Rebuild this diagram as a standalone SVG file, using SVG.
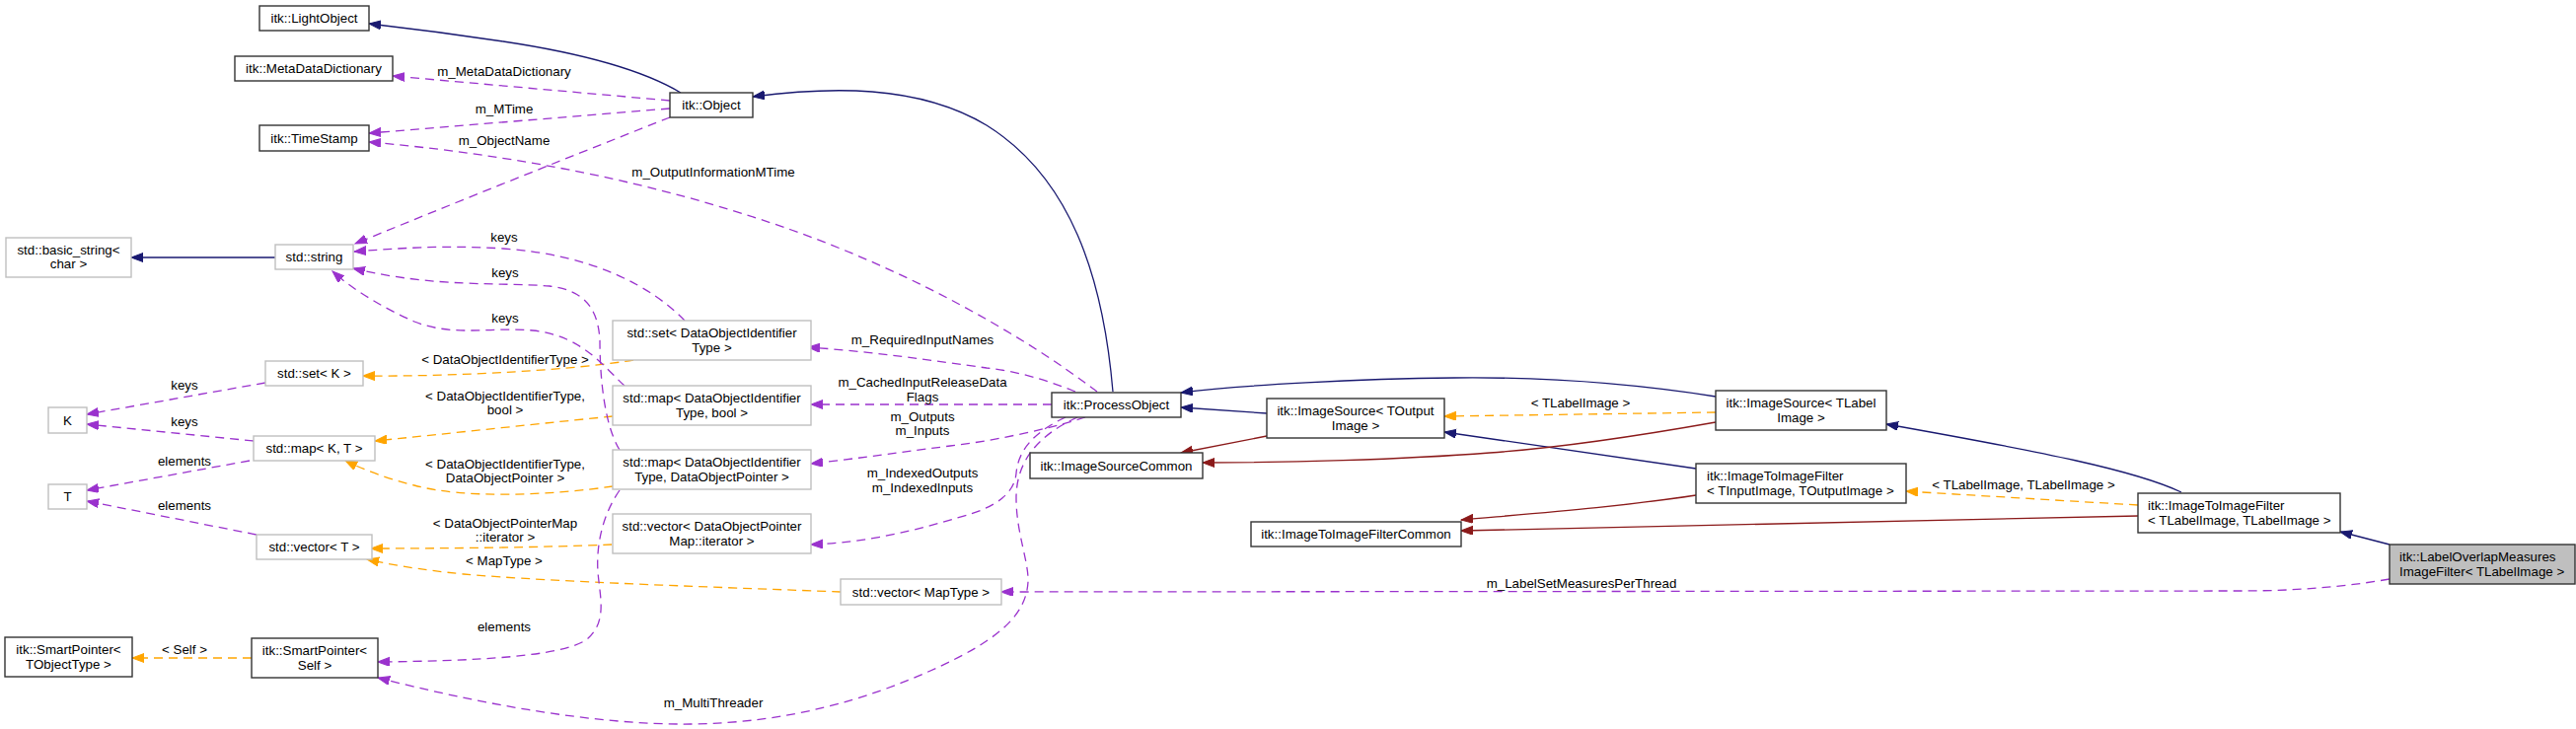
<svg xmlns="http://www.w3.org/2000/svg" width="2611" height="739" viewBox="0 0 2611 739">
<defs>
<style>
text{font-family:"Liberation Sans",Arial,sans-serif;font-size:13.33px;fill:#000}
.c{text-anchor:middle}
.doc rect{fill:#fff;stroke:#333;stroke-width:1.4}
.und rect{fill:#fff;stroke:#bfbfbf;stroke-width:1.4}
.main rect{fill:#bfbfbf;stroke:#333;stroke-width:1.4}
.e{fill:none;stroke-width:1.3}
.inh{stroke:#191970}
.pri{stroke:#8b1a1a}
.tpl{stroke:#ffa500;stroke-dasharray:9,6}
.use{stroke:#9a32cd;stroke-dasharray:9,6}
</style>
<marker id="aB" markerWidth="13" markerHeight="10" refX="12" refY="4.5" orient="auto" markerUnits="userSpaceOnUse"><path d="M0,0 L12,4.5 L0,9 z" fill="#191970" stroke="#191970"/></marker>
<marker id="aR" markerWidth="13" markerHeight="10" refX="12" refY="4.5" orient="auto" markerUnits="userSpaceOnUse"><path d="M0,0 L12,4.5 L0,9 z" fill="#8b1a1a" stroke="#8b1a1a"/></marker>
<marker id="aO" markerWidth="13" markerHeight="10" refX="12" refY="4.5" orient="auto" markerUnits="userSpaceOnUse"><path d="M0,0 L12,4.5 L0,9 z" fill="#ffa500" stroke="#ffa500"/></marker>
<marker id="aP" markerWidth="13" markerHeight="10" refX="12" refY="4.5" orient="auto" markerUnits="userSpaceOnUse"><path d="M0,0 L12,4.5 L0,9 z" fill="#9a32cd" stroke="#9a32cd"/></marker>
</defs>
<rect width="2611" height="739" fill="#fff"/>
<g id="edges">
<!-- inheritance -->
<path class="e inh" marker-end="url(#aB)" d="M690,94 C650,70 590,54 510,42 C450,33 400,27 374,24"/>
<path class="e inh" marker-end="url(#aB)" d="M1128,397 C1118,280 1085,180 1000,127 C930,85 840,88 763,98"/>
<path class="e inh" marker-end="url(#aB)" d="M1284,419 L1197,413"/>
<path class="e inh" marker-end="url(#aB)" d="M1739,402 C1650,388 1560,382 1474,383 C1380,384 1260,390 1197,398"/>
<path class="e inh" marker-end="url(#aB)" d="M1719,475 L1464,438"/>
<path class="e inh" marker-end="url(#aB)" d="M2211,499 C2165,477 2070,458 1912,430"/>
<path class="e inh" marker-end="url(#aB)" d="M2422,552 L2372,539"/>
<path class="e inh" marker-end="url(#aB)" d="M279,261 L133,261"/>
<!-- protected/private inheritance -->
<path class="e pri" marker-end="url(#aR)" d="M1284,442 L1197,459"/>
<path class="e pri" marker-end="url(#aR)" d="M1739,428 C1660,442 1580,454 1510,459 C1420,466 1300,469 1219,469"/>
<path class="e pri" marker-end="url(#aR)" d="M1719,502 C1640,514 1560,520 1481,527"/>
<path class="e pri" marker-end="url(#aR)" d="M2167,523 L1481,538"/>
<!-- template instantiation -->
<path class="e tpl" marker-end="url(#aO)" d="M1739,418 L1464,422"/>
<path class="e tpl" marker-end="url(#aO)" d="M2167,512 L1932,498"/>
<path class="e tpl" marker-end="url(#aO)" d="M255,667 L134,667"/>
<path class="e tpl" marker-end="url(#aO)" d="M642,365 C590,374 470,382 368,381"/>
<path class="e tpl" marker-end="url(#aO)" d="M621,422 C560,428 450,440 380,447"/>
<path class="e tpl" marker-end="url(#aO)" d="M621,493 C560,502 470,506 420,492 C395,486 368,476 350,467"/>
<path class="e tpl" marker-end="url(#aO)" d="M620,552 C550,555 450,556 376,556"/>
<path class="e tpl" marker-end="url(#aO)" d="M852,600 C750,596 560,590 470,582 C420,577 395,572 372,567"/>
<!-- usage -->
<path class="e use" marker-end="url(#aP)" d="M679,102 L398,77"/>
<path class="e use" marker-end="url(#aP)" d="M679,110 L374,135"/>
<path class="e use" marker-end="url(#aP)" d="M1112,397 C1030,335 920,275 802,233 C700,197 560,160 374,144"/>
<path class="e use" marker-end="url(#aP)" d="M679,119 C600,150 450,210 360,247"/>
<path class="e use" marker-end="url(#aP)" d="M694,325 C660,290 600,258 510,252 C450,248 400,252 359,255"/>
<path class="e use" marker-end="url(#aP)" d="M628,456 C612,430 608,380 608,345 C606,310 590,294 557,290 C510,286 440,292 358,272"/>
<path class="e use" marker-end="url(#aP)" d="M633,391 C612,372 590,340 540,335 C500,331 460,342 420,326 C390,313 358,294 337,275"/>
<path class="e use" marker-end="url(#aP)" d="M269,388 L88,420"/>
<path class="e use" marker-end="url(#aP)" d="M257,447 L88,430"/>
<path class="e use" marker-end="url(#aP)" d="M253,467 L88,497"/>
<path class="e use" marker-end="url(#aP)" d="M260,542 L88,508"/>
<path class="e use" marker-end="url(#aP)" d="M628,497 C612,520 604,550 606,580 C608,605 616,630 595,648 C570,666 480,670 383,671"/>
<path class="e use" marker-end="url(#aP)" d="M1090,397 C1060,385 1030,376 1000,373 C950,366 880,356 819,352"/>
<path class="e use" marker-end="url(#aP)" d="M1066,410 L822,410"/>
<path class="e use" marker-end="url(#aP)" d="M1100,423 C1060,436 1000,448 963,452 C900,460 860,466 822,470"/>
<path class="e use" marker-end="url(#aP)" d="M1080,423 C1050,437 1032,455 1030,480 C1028,500 1010,515 970,525 C930,537 880,550 822,552"/>
<path class="e use" marker-end="url(#aP)" d="M1092,423 C1055,440 1030,465 1030,505 C1030,540 1043,570 1042,590 C1040,625 1010,650 943,680 C880,708 800,733 700,734 C600,735 480,712 383,687"/>
<path class="e use" marker-end="url(#aP)" d="M2422,587 C2370,596 2320,599 2270,599 L1015,600"/>
<!-- labels -->
<text class="c" x="511" y="76.5">m_MetaDataDictionary</text>
<text class="c" x="511" y="114.5">m_MTime</text>
<text class="c" x="511" y="147">m_ObjectName</text>
<text class="c" x="723" y="179">m_OutputInformationMTime</text>
<text class="c" x="511" y="245">keys</text>
<text class="c" x="512" y="281">keys</text>
<text class="c" x="512" y="327">keys</text>
<text class="c" x="512" y="369">&lt; DataObjectIdentifierType &gt;</text>
<text class="c" x="187" y="395">keys</text>
<text class="c" x="512" y="405.5">&lt; DataObjectIdentifierType,</text>
<text class="c" x="512" y="420">bool &gt;</text>
<text class="c" x="187" y="432">keys</text>
<text class="c" x="187" y="472">elements</text>
<text class="c" x="512" y="475">&lt; DataObjectIdentifierType,</text>
<text class="c" x="512" y="489">DataObjectPointer &gt;</text>
<text class="c" x="187" y="517">elements</text>
<text class="c" x="512" y="535">&lt; DataObjectPointerMap</text>
<text class="c" x="512" y="549">::iterator &gt;</text>
<text class="c" x="511" y="573">&lt; MapType &gt;</text>
<text class="c" x="511" y="640">elements</text>
<text class="c" x="187" y="663">&lt; Self &gt;</text>
<text class="c" x="723" y="717">m_MultiThreader</text>
<text class="c" x="935" y="349">m_RequiredInputNames</text>
<text class="c" x="935" y="391.5">m_CachedInputReleaseData</text>
<text class="c" x="935" y="406.5">Flags</text>
<text class="c" x="935" y="427">m_Outputs</text>
<text class="c" x="935" y="441">m_Inputs</text>
<text class="c" x="935" y="484">m_IndexedOutputs</text>
<text class="c" x="935" y="499">m_IndexedInputs</text>
<text class="c" x="1602" y="413">&lt; TLabelImage &gt;</text>
<text class="c" x="2051" y="495.5">&lt; TLabelImage, TLabelImage &gt;</text>
<text class="c" x="1603" y="595.5">m_LabelSetMeasuresPerThread</text>
</g>
<g id="n_LightObject" class="doc"><rect x="263" y="6" width="111" height="25"/><text class="c" x="318.5" y="23">itk::LightObject</text></g>
<g id="n_MetaDataDictionary" class="doc"><rect x="238" y="57" width="160" height="25"/><text class="c" x="318" y="74">itk::MetaDataDictionary</text></g>
<g id="n_TimeStamp" class="doc"><rect x="263" y="127" width="111" height="26"/><text class="c" x="318.5" y="144.5">itk::TimeStamp</text></g>
<g id="n_Object" class="doc"><rect x="679" y="94" width="84" height="25"/><text class="c" x="721" y="111">itk::Object</text></g>
<g id="n_basic_string" class="und"><rect x="6" y="241" width="127" height="40"/><text class="c" x="69.5" y="257.5">std::basic_string&lt;</text><text class="c" x="69.5" y="272">char &gt;</text></g>
<g id="n_string" class="und"><rect x="279" y="248" width="79" height="25"/><text class="c" x="318.5" y="265">std::string</text></g>
<g id="n_set_DOIT" class="und"><rect x="621" y="325" width="201" height="40"/><text class="c" x="721.5" y="341.5">std::set&lt; DataObjectIdentifier</text><text class="c" x="721.5" y="356.5">Type &gt;</text></g>
<g id="n_set_K" class="und"><rect x="269" y="366" width="99" height="25"/><text class="c" x="318.5" y="383">std::set&lt; K &gt;</text></g>
<g id="n_K" class="und"><rect x="49" y="413" width="39" height="26"/><text class="c" x="68.5" y="430.5">K</text></g>
<g id="n_map_KT" class="und"><rect x="257" y="442" width="123" height="25"/><text class="c" x="318.5" y="459">std::map&lt; K, T &gt;</text></g>
<g id="n_T" class="und"><rect x="49" y="491" width="39" height="25"/><text class="c" x="68.5" y="508">T</text></g>
<g id="n_map_DOIT_bool" class="und"><rect x="621" y="391" width="201" height="40"/><text class="c" x="721.5" y="407.5">std::map&lt; DataObjectIdentifier</text><text class="c" x="721.5" y="422.5">Type, bool &gt;</text></g>
<g id="n_map_DOIT_DOP" class="und"><rect x="621" y="456" width="201" height="40"/><text class="c" x="721.5" y="472.5">std::map&lt; DataObjectIdentifier</text><text class="c" x="721.5" y="487.5">Type, DataObjectPointer &gt;</text></g>
<g id="n_vector_T" class="und"><rect x="260" y="542" width="117" height="25"/><text class="c" x="318.5" y="559">std::vector&lt; T &gt;</text></g>
<g id="n_vector_DOPMapIter" class="und"><rect x="621" y="521" width="201" height="40"/><text class="c" x="721.5" y="537.5">std::vector&lt; DataObjectPointer</text><text class="c" x="721.5" y="552.5">Map::iterator &gt;</text></g>
<g id="n_vector_MapType" class="und"><rect x="852" y="587" width="163" height="26"/><text class="c" x="933.5" y="604.5">std::vector&lt; MapType &gt;</text></g>
<g id="n_SmartPointer_T" class="doc"><rect x="5" y="646" width="129" height="40"/><text class="c" x="69.5" y="662.5">itk::SmartPointer&lt;</text><text class="c" x="69.5" y="677.5">TObjectType &gt;</text></g>
<g id="n_SmartPointer_Self" class="doc"><rect x="255" y="647" width="128" height="40"/><text class="c" x="319" y="663.5">itk::SmartPointer&lt;</text><text class="c" x="319" y="678.5">Self &gt;</text></g>
<g id="n_ProcessObject" class="doc"><rect x="1066" y="398" width="131" height="25"/><text class="c" x="1131.5" y="415">itk::ProcessObject</text></g>
<g id="n_ImageSourceCommon" class="doc"><rect x="1044" y="459" width="175" height="26"/><text class="c" x="1131.5" y="476.5">itk::ImageSourceCommon</text></g>
<g id="n_ImageSource_TOut" class="doc"><rect x="1284" y="404" width="180" height="40"/><text class="c" x="1374" y="420.5">itk::ImageSource&lt; TOutput</text><text class="c" x="1374" y="435.5">Image &gt;</text></g>
<g id="n_ITIFCommon" class="doc"><rect x="1268" y="529" width="213" height="25"/><text class="c" x="1374.5" y="546">itk::ImageToImageFilterCommon</text></g>
<g id="n_ImageSource_TLabel" class="doc"><rect x="1739" y="396" width="173" height="40"/><text class="c" x="1825.5" y="412.5">itk::ImageSource&lt; TLabel</text><text class="c" x="1825.5" y="427.5">Image &gt;</text></g>
<g id="n_ITIF_TIn_TOut" class="doc"><rect x="1719" y="470" width="213" height="40"/><text x="1730" y="486.5">itk::ImageToImageFilter</text><text x="1730" y="501.5">&lt; TInputImage, TOutputImage &gt;</text></g>
<g id="n_ITIF_TL_TL" class="doc"><rect x="2167" y="500" width="205" height="40"/><text x="2177" y="516.5">itk::ImageToImageFilter</text><text x="2177" y="531.5">&lt; TLabelImage, TLabelImage &gt;</text></g>
<g id="n_LabelOverlap" class="main"><rect x="2422" y="552" width="188" height="40"/><text x="2432" y="568.5">itk::LabelOverlapMeasures</text><text x="2432" y="583.5">ImageFilter&lt; TLabelImage &gt;</text></g>
</svg>
